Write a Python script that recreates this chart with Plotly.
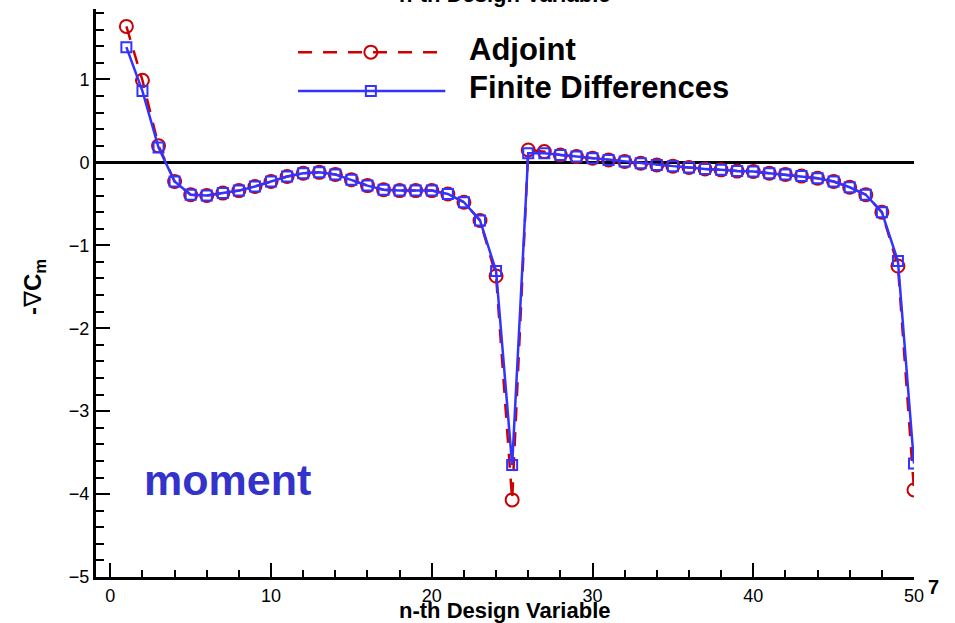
import plotly.graph_objects as go

design_var = list(range(1, 51))
adjoint = [1.64, 0.99, 0.20, -0.23, -0.39, -0.40, -0.37, -0.34, -0.29, -0.23,
           -0.17, -0.13, -0.12, -0.145, -0.21, -0.28, -0.33, -0.34, -0.34, -0.34,
           -0.38, -0.48, -0.70, -1.37, -4.07, 0.15, 0.13, 0.09, 0.07, 0.05,
           0.03, 0.01, -0.01, -0.03, -0.045, -0.06, -0.08, -0.09, -0.105, -0.11,
           -0.13, -0.145, -0.165, -0.19, -0.23, -0.30, -0.39, -0.60, -1.25, -3.95]
finite_diff = [1.39, 0.86, 0.18, -0.23, -0.39, -0.40, -0.37, -0.34, -0.29, -0.23,
               -0.17, -0.13, -0.12, -0.145, -0.21, -0.28, -0.33, -0.34, -0.34, -0.34,
               -0.38, -0.48, -0.70, -1.31, -3.65, 0.11, 0.11, 0.09, 0.07, 0.05,
               0.03, 0.01, -0.01, -0.03, -0.045, -0.06, -0.08, -0.09, -0.105, -0.11,
               -0.13, -0.145, -0.165, -0.19, -0.23, -0.30, -0.39, -0.60, -1.19, -3.63]
legend_names = ["Adjoint", "Finite Differences"]

RED = "rgb(204,0,0)"
BLUE = "rgb(51,51,255)"
FONT = "Liberation Sans, Arial, sans-serif"

fig = go.Figure()
fig.add_trace(go.Scatter(
    x=design_var, y=adjoint, mode="lines+markers", name=legend_names[0],
    line=dict(color=RED, width=2.5, dash="14px,11px"),
    marker=dict(symbol="circle-open", size=13, color=RED, line=dict(width=2, color=RED)),
))
fig.add_trace(go.Scatter(
    x=design_var, y=finite_diff, mode="lines+markers", name=legend_names[1],
    line=dict(color=BLUE, width=2.5),
    marker=dict(symbol="square-open", size=10, color=BLUE, line=dict(width=2, color=BLUE)),
))

# legend samples on an invisible overlay axis (paper-like 0..1 coords)
fig.add_trace(go.Scatter(x=[0.247, 0.421], y=[0.924, 0.924], xaxis="x2", yaxis="y2", mode="lines",
                         line=dict(color=RED, width=2.5, dash="14px,11px"), hoverinfo="skip"))
fig.add_trace(go.Scatter(x=[0.336], y=[0.924], xaxis="x2", yaxis="y2", mode="markers",
                         marker=dict(symbol="circle-open", size=13, color=RED, line=dict(width=2, color=RED)),
                         hoverinfo="skip"))
fig.add_trace(go.Scatter(x=[0.247, 0.427], y=[0.8556, 0.8556], xaxis="x2", yaxis="y2", mode="lines",
                         line=dict(color=BLUE, width=2.5), hoverinfo="skip"))
fig.add_trace(go.Scatter(x=[0.336], y=[0.8556], xaxis="x2", yaxis="y2", mode="markers",
                         marker=dict(symbol="square-open", size=10, color=BLUE, line=dict(width=2, color=BLUE)),
                         hoverinfo="skip"))

axis_common = dict(
    showline=True, linecolor="black", linewidth=3, showgrid=False,
    ticks="inside", ticklen=14, tickwidth=2, tickcolor="black",
    tickfont=dict(family=FONT, size=18, color="black"),
)

fig.update_layout(
    width=955, height=623,
    margin=dict(l=96, r=41, t=9, b=46),
    paper_bgcolor="white", plot_bgcolor="white",
    showlegend=False,
    font=dict(family=FONT, color="black"),
    xaxis=dict(range=[-0.89, 50], tick0=0, dtick=10, zeroline=False,
               minor=dict(dtick=2, ticks="inside", ticklen=7, tickwidth=2, tickcolor="black"),
               **axis_common),
    yaxis=dict(range=[-5, 1.85], tick0=0, dtick=1, zeroline=True, zerolinecolor="black",
               zerolinewidth=3,
               minor=dict(dtick=0.2, ticks="inside", ticklen=8, tickwidth=2, tickcolor="black"),
               **axis_common),
    xaxis2=dict(range=[0, 1], overlaying="x", visible=False, fixedrange=True),
    yaxis2=dict(range=[0, 1], overlaying="y", visible=False, fixedrange=True),
)

annotations = [
    dict(text="<b>n-th Design Variable</b>", xref="paper", yref="paper", x=0.5, y=-0.059,
         xanchor="center", yanchor="middle", showarrow=False, font=dict(size=22, family=FONT)),
    dict(text="<b>n-th Design Variable</b>", xref="paper", yref="paper", x=0.5, y=1.0,
         xanchor="center", yanchor="bottom", showarrow=False, font=dict(size=22, family=FONT)),
    dict(text="<b>-</b>∇<b>C<sub>m</sub></b>", xref="paper", yref="paper", x=-0.075, y=0.51,
         xanchor="center", yanchor="middle", textangle=-90, showarrow=False,
         font=dict(size=24, family=FONT)),
    dict(text="<b>moment</b>", xref="x", yref="y", x=7.3, y=-3.83,
         xanchor="center", yanchor="middle", showarrow=False,
         font=dict(size=43, family=FONT, color="rgb(51,51,204)")),
    dict(text="<b>" + legend_names[0] + "</b>", xref="paper", yref="paper", x=0.454, y=0.928,
         xanchor="left", yanchor="middle", showarrow=False, font=dict(size=31, family=FONT)),
    dict(text="<b>" + legend_names[1] + "</b>", xref="paper", yref="paper", x=0.454, y=0.861,
         xanchor="left", yanchor="middle", showarrow=False, font=dict(size=31, family=FONT)),
    dict(text="<b>7</b>", xref="paper", yref="paper", x=1.0244, y=-0.0176,
         xanchor="center", yanchor="middle", showarrow=False, font=dict(size=20, family=FONT)),
]
fig.update_layout(annotations=annotations)

fig.write_html("out.html")
